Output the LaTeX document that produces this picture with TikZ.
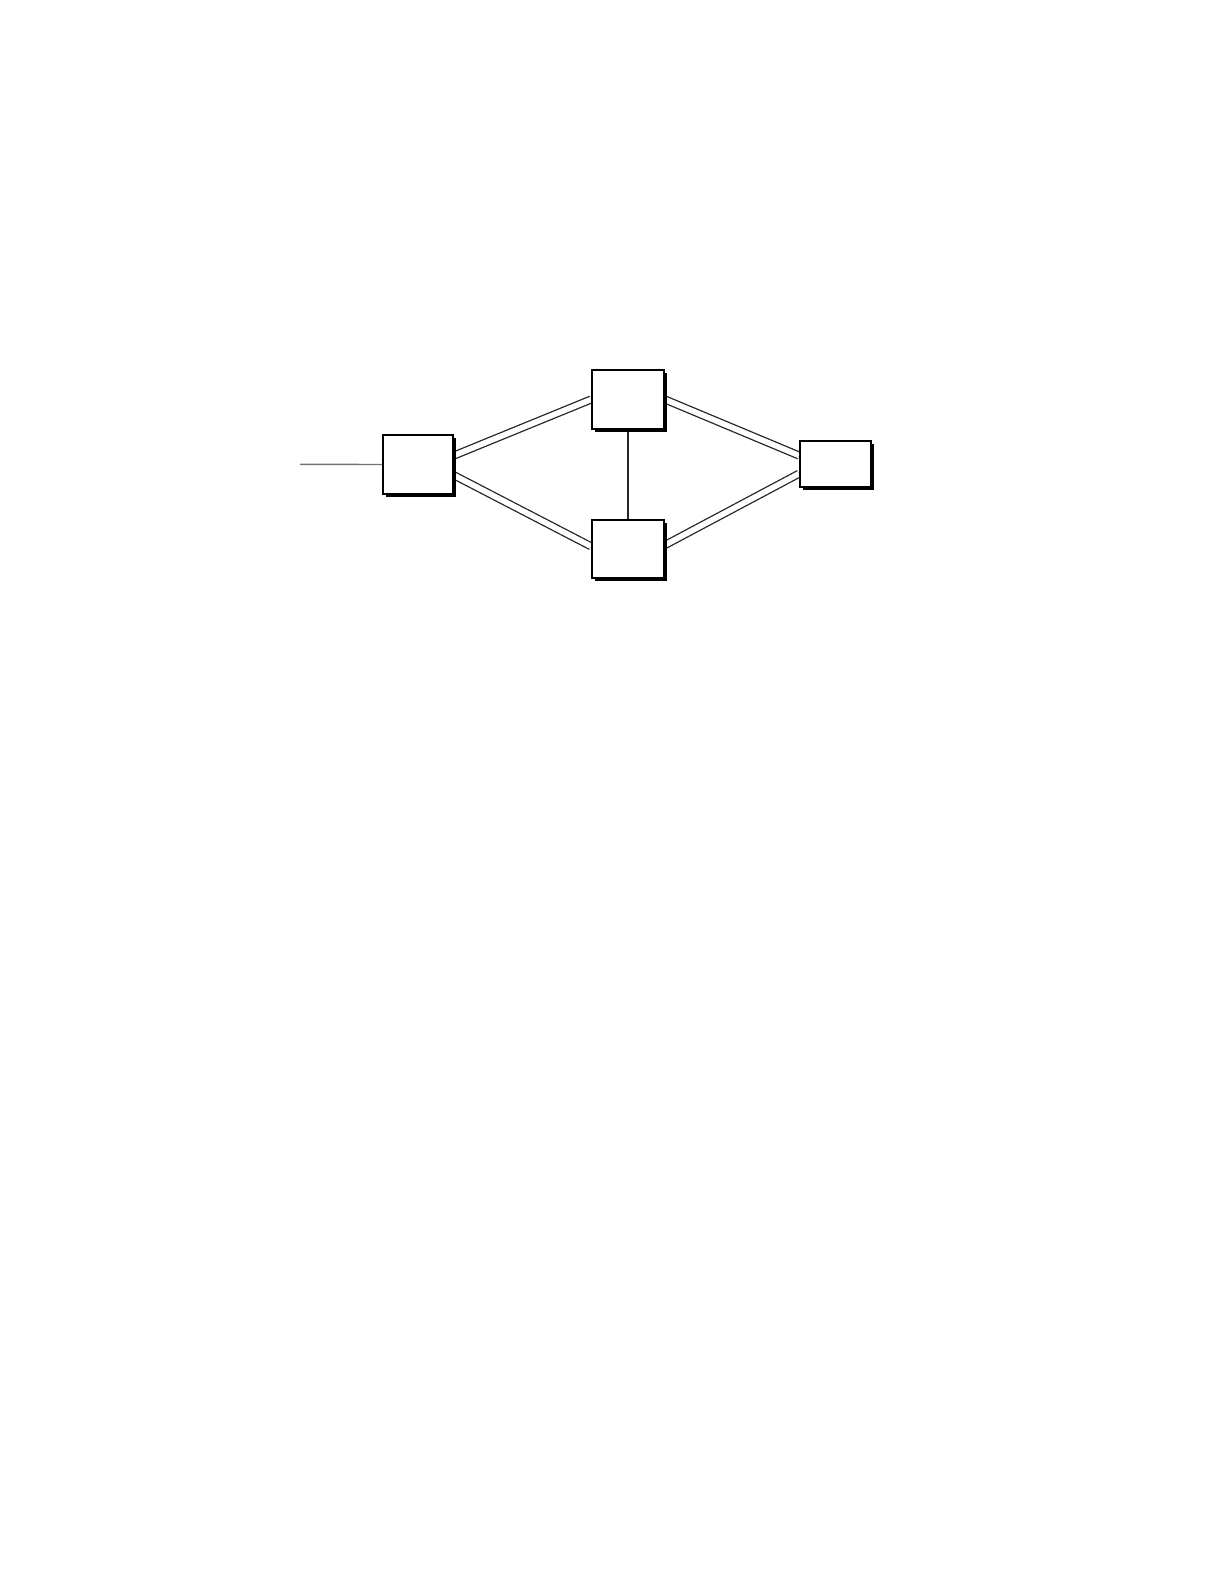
\documentclass[tikz,border=0pt]{standalone}
\usetikzlibrary{shadows,backgrounds}
\begin{document}
\begin{tikzpicture}[x=0.5bp,y=-0.5bp,
  box/.style={draw=black,line width=1bp,fill=white,inner sep=0pt,
    drop shadow={shadow xshift=1.5bp,shadow yshift=-1.5bp,fill=black,opacity=1}},
  link/.style={draw=black!85,line width=0.65bp,double=white,double distance=2.8bp},
  thin/.style={draw=black!85,line width=0.6bp},
  feed/.style={draw=black!55,line width=0.7bp}]
\useasboundingbox (0,0) rectangle (1224,1584);
\node[box,minimum width=35bp,minimum height=29.5bp] (A) at (418,464.5) {};
\node[box,minimum width=36bp,minimum height=29.5bp] (B) at (628,399.5) {};
\node[box,minimum width=36bp,minimum height=29bp] (C) at (628,549) {};
\node[box,minimum width=35.5bp,minimum height=23bp] (E) at (835.5,464) {};
\coordinate (in) at (300,464.3);
\begin{scope}[on background layer]
\draw[feed] (in) -- (A.west);
\draw[link] ([yshift=4.5bp]A.east) -- (B.west);
\draw[link] ([yshift=-5.4bp]A.east) -- ([yshift=1.35bp]C.west);
\draw[link] (B.east) -- ([yshift=4.25bp]E.west);
\draw[link] ([yshift=2bp]C.east) -- ([yshift=-4.85bp]E.west);
\draw[thin] (B.south) -- (C.north);
\end{scope}
\end{tikzpicture}
\end{document}
